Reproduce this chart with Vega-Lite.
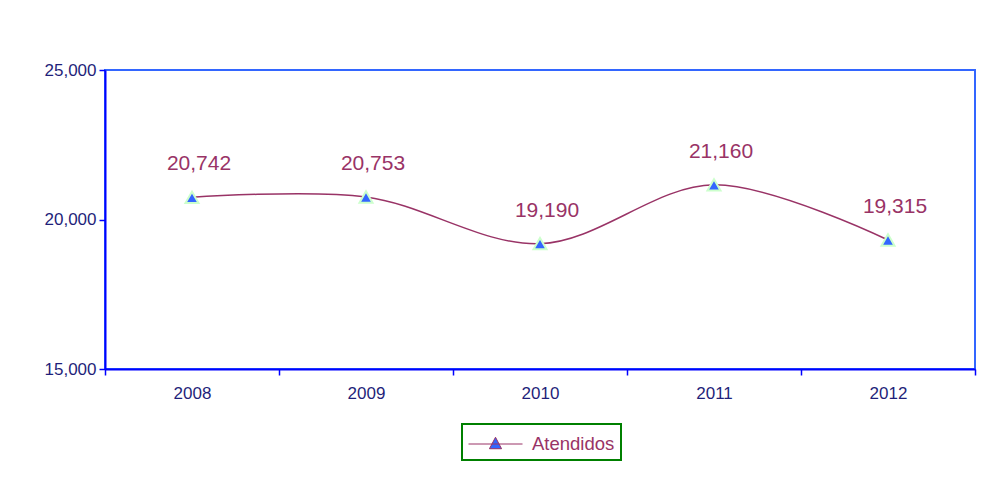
{
  "$schema": "https://vega.github.io/schema/vega-lite/v6.json",
  "width": 870,
  "height": 299,
  "autosize": {"type": "none"},
  "padding": {"left": 105, "top": 70, "right": 23, "bottom": 123},
  "background": "white",
  "config": {
    "font": "Liberation Sans",
    "view": {"stroke": "#3366ff", "strokeWidth": 2},
    "legend": {"strokeWidth": 2}
  },
  "data": {
    "values": [
      {"year": "2008", "atendidos": 20742, "serie": "Atendidos"},
      {"year": "2009", "atendidos": 20753, "serie": "Atendidos"},
      {"year": "2010", "atendidos": 19190, "serie": "Atendidos"},
      {"year": "2011", "atendidos": 21160, "serie": "Atendidos"},
      {"year": "2012", "atendidos": 19315, "serie": "Atendidos"}
    ]
  },
  "encoding": {
    "x": {
      "field": "year",
      "type": "ordinal",
      "bandPosition": 0.5,
      "scale": {"type": "band", "paddingInner": 0, "paddingOuter": 0},
      "axis": {
        "title": null,
        "labelAngle": 0,
        "tickBand": "extent",
        "domainColor": "#0000ff",
        "domainWidth": 2,
        "tickColor": "#0000ff",
        "tickWidth": 1.5,
        "tickSize": 6,
        "labelColor": "#1f1f7a",
        "labelFontSize": 17,
        "labelPadding": 10
      }
    },
    "y": {
      "field": "atendidos",
      "type": "quantitative",
      "scale": {"domain": [15000, 25000], "nice": false, "zero": false},
      "axis": {
        "title": null,
        "grid": false,
        "values": [15000, 20000, 25000],
        "labelExpr": "format(datum.value, ',')",
        "domainColor": "#0000ff",
        "domainWidth": 2,
        "tickColor": "#0000ff",
        "tickWidth": 1.5,
        "tickSize": 6,
        "labelColor": "#1f1f7a",
        "labelFontSize": 17,
        "labelPadding": 3
      }
    }
  },
  "layer": [
    {
      "mark": {"type": "line", "interpolate": "catmull-rom", "strokeWidth": 1.5},
      "encoding": {
        "color": {
          "field": "serie",
          "type": "nominal",
          "scale": {"range": ["#993366"]},
          "legend": {
            "title": null,
            "orient": "none",
            "legendX": 357,
            "legendY": 354,
            "padding": 6,
            "strokeColor": "#008000",
            "fillColor": "white",
            "symbolType": "M-1,0H3M1,-0.5L1.45,0.35L0.55,0.35Z",
            "symbolSize": 729,
            "symbolStrokeWidth": 1,
            "labelOffset": 36,
            "labelFontSize": 18.5,
            "labelColor": "#993366",
            "encode": {
              "symbols": {"update": {"fill": {"value": "#3366ff"}, "stroke": {"value": "#993366"}, "opacity": {"value": 1}}}
            }
          }
        }
      }
    },
    {
      "mark": {
        "type": "point",
        "shape": "triangle-up",
        "filled": true,
        "fill": "#3366ff",
        "stroke": "#ccffcc",
        "strokeWidth": 2,
        "size": 170,
        "opacity": 1
      }
    },
    {
      "mark": {
        "type": "text",
        "dy": -33,
        "dx": 7,
        "fontSize": 21,
        "color": "#993366",
        "baseline": "middle"
      },
      "encoding": {
        "text": {"field": "atendidos", "type": "quantitative", "format": ","}
      }
    }
  ]
}
